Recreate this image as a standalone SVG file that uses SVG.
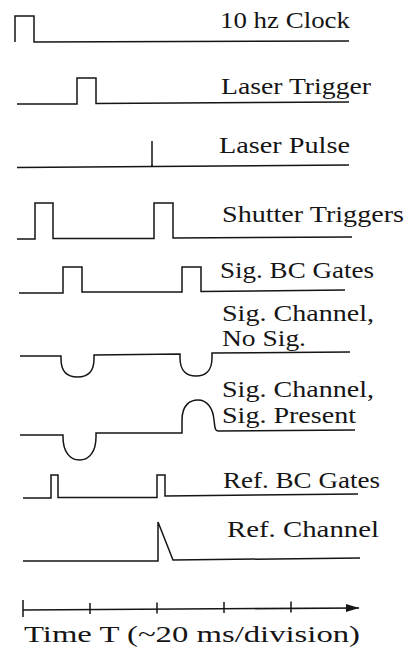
<svg xmlns="http://www.w3.org/2000/svg" width="408" height="655" viewBox="0 0 408 655">
<style>
.w{fill:none;stroke:#151515;stroke-width:1.5;stroke-linejoin:miter}
.t{font-family:'Liberation Serif','DejaVu Serif',serif;font-size:23px;fill:#151515}
</style>
<defs>
<marker id="arr" markerWidth="14" markerHeight="10" refX="13" refY="4.5" orient="auto" markerUnits="userSpaceOnUse">
<path d="M0,0.5 L13,4.5 L0,8.5 Z" fill="#151515"/>
</marker>
</defs>
<rect width="408" height="655" fill="#fff"/>
<g id="clock">
<path class="w" d="M15,42 V16 H34 V42 L349,41"/>
<text class="t" x="220" y="28" textLength="130" lengthAdjust="spacingAndGlyphs">10 hz Clock</text>
</g>
<g id="laser-trigger">
<path class="w" d="M17,104 H77 V78 H96 V103.5 L349,102"/>
<text class="t" x="221" y="94" textLength="150" lengthAdjust="spacingAndGlyphs">Laser Trigger</text>
</g>
<g id="laser-pulse">
<path class="w" d="M17,167.5 L349,165 M152,166 V141"/>
<text class="t" x="219" y="153" textLength="131" lengthAdjust="spacingAndGlyphs">Laser Pulse</text>
</g>
<g id="shutter-triggers">
<path class="w" d="M17,239 H35 V203 H53 V238.5 H154 V203 H173 V238 L352,237"/>
<text class="t" x="222" y="222" textLength="182" lengthAdjust="spacingAndGlyphs">Shutter Triggers</text>
</g>
<g id="sig-bc-gates">
<path class="w" d="M19,293 H63 V267 H82 V292 H182 V267 H201 V291.5 L345,290"/>
<text class="t" x="220" y="278" textLength="154" lengthAdjust="spacingAndGlyphs">Sig. BC Gates</text>
</g>
<g id="sig-channel-no-sig">
<path class="w" d="M20,356 L61,356 V359 C61,372 68,377 77.5,377 C87,377 94,372 94,359 V355 L180,354 V358 C180,371 187,376 196,376 C205,376 212,371 212,358 V353 L350,352"/>
<text class="t" x="222" y="321" textLength="152" lengthAdjust="spacingAndGlyphs">Sig. Channel,</text>
<text class="t" x="222" y="346" textLength="84" lengthAdjust="spacingAndGlyphs">No Sig.</text>
</g>
<g id="sig-channel-sig-present">
<path class="w" d="M20,435 H63 V437 C63,452 70,460 79.5,460 C89,460 96,452 96,437 V433 L182,433 V420 C182,405 190,400 198,400 C207,400 213,408 214,420 C215,428 215,431 218,431 L355,430"/>
<text class="t" x="222" y="397" textLength="152" lengthAdjust="spacingAndGlyphs">Sig. Channel,</text>
<text class="t" x="222" y="423" textLength="134" lengthAdjust="spacingAndGlyphs">Sig. Present</text>
</g>
<g id="ref-bc-gates">
<path class="w" d="M23,498 H51 V475 H58 V497.5 H157 V475 H165 V496 L358,494"/>
<text class="t" x="223" y="488" textLength="157" lengthAdjust="spacingAndGlyphs">Ref. BC Gates</text>
</g>
<g id="ref-channel">
<path class="w" d="M23,561 H158 V522 L173,560 L360,558"/>
<text class="t" x="227" y="537" textLength="152" lengthAdjust="spacingAndGlyphs">Ref. Channel</text>
</g>
<g id="connectors">
<path class="w" d="M23,610 L359,608" marker-end="url(#arr)"/>
<path class="w" d="M23,600 V617 M90,603 V614 M157,602.5 V613.5 M224,602 V613 M291,601.5 V612.5"/>
</g>
<g id="time-axis-label">
<text class="t" x="24" y="642" font-size="25" textLength="336" lengthAdjust="spacingAndGlyphs">Time T (~20 ms/division)</text>
</g>
</svg>
